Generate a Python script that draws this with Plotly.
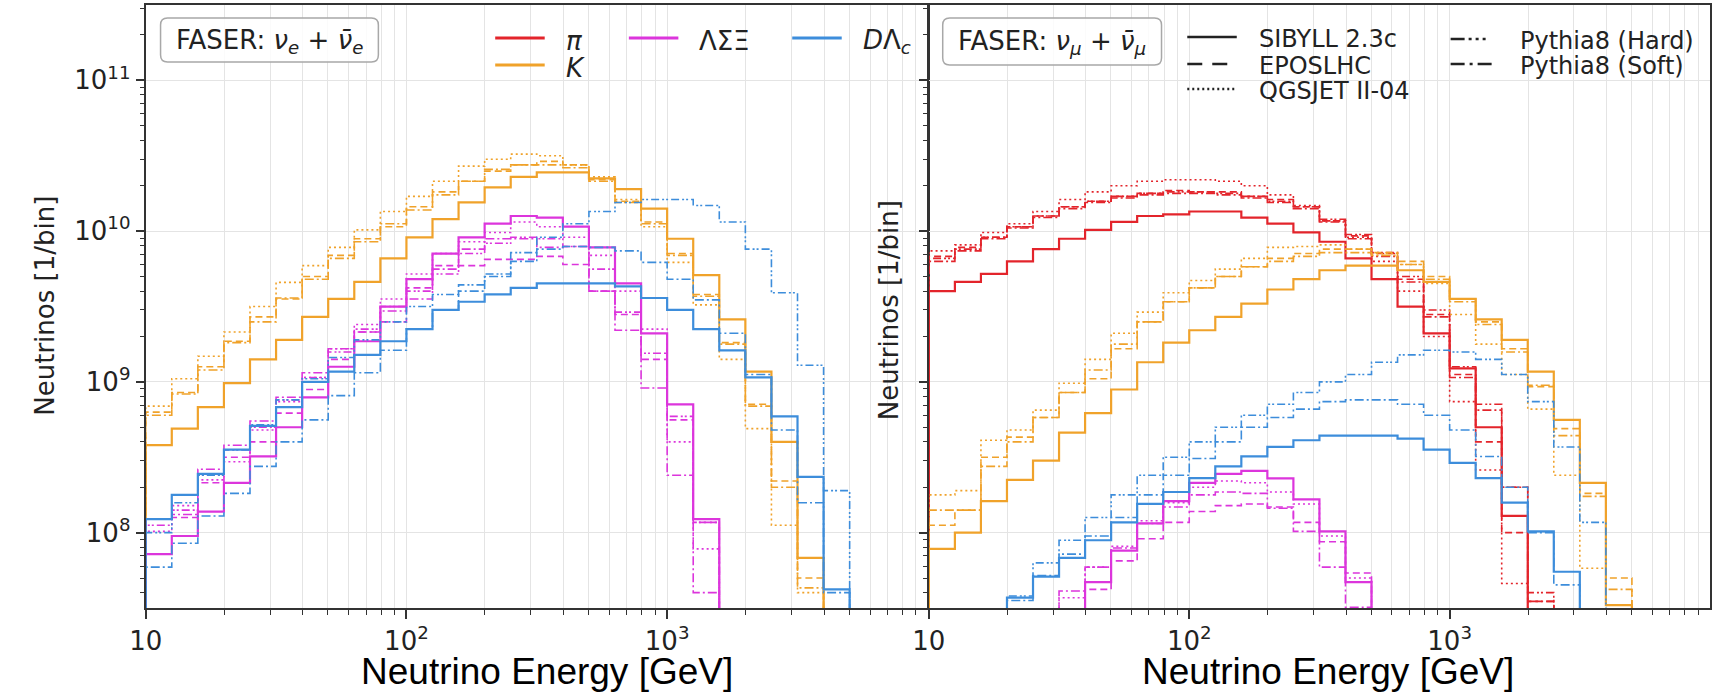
import plotly.graph_objects as go

W, H = 1712, 692

# ---------------- bins (0.1 decade, 10 GeV .. 10 TeV) ----------------
bin_edges = [10 ** (1 + 0.1 * i) for i in range(31)]

# ---------------- LEFT PANEL: nu_e + nubar_e (values per bin, bin 0 = 10 GeV) ----------------
L_K_sibyll = [3.8e8, 4.9e8, 6.8e8, 9.8e8, 1.41e9, 1.9e9, 2.7e9, 3.55e9, 4.6e9, 6.6e9, 9.1e9, 1.2e10, 1.55e10,
              1.95e10, 2.29e10, 2.45e10, 2.45e10, 2.24e10, 1.9e10, 1.41e10, 8.9e9, 5.1e9, 2.6e9, 1.17e9, 4.0e8, 6.8e7]
L_K_qgsjet = [6.9e8, 1.05e9, 1.48e9, 2.14e9, 3.16e9, 4.57e9, 5.9e9, 7.8e9, 1.02e10, 1.35e10, 1.7e10, 2.14e10, 2.7e10,
              3.0e10, 3.24e10, 3.16e10, 2.75e10, 2.29e10, 1.62e10, 1.07e10, 6.2e9, 3.24e9, 1.41e9, 4.9e8, 1.12e8, 4.0e7]
L_K_epos = [6.3e8, 8.5e8, 1.26e9, 1.86e9, 2.7e9, 3.55e9, 5.0e9, 6.9e9, 8.9e9, 1.07e10, 1.45e10, 1.82e10, 2.14e10,
            2.5e10, 2.75e10, 2.9e10, 2.75e10, 2.19e10, 1.58e10, 1.15e10, 7.1e9, 3.8e9, 1.82e9, 7.1e8, 2.2e8, 5.0e7]
L_K_soft = [6.0e8, 8.3e8, 1.2e9, 1.82e9, 2.5e9, 3.6e9, 4.8e9, 6.6e9, 8.5e9, 1.12e10, 1.38e10, 1.74e10, 2.14e10,
            2.57e10, 2.75e10, 2.75e10, 2.63e10, 2.14e10, 1.55e10, 1.12e10, 6.9e9, 3.7e9, 1.78e9, 6.9e8, 2.0e8, 4.3e7]

L_Hyp_sibyll = [7.2e7, 9.5e7, 1.38e8, 2.14e8, 3.2e8, 5.0e8, 7.9e8, 1.26e9, 1.86e9, 3.16e9, 4.8e9, 7.1e9, 9.1e9,
                1.12e10, 1.26e10, 1.23e10, 1.07e10, 7.8e9, 4.5e9, 2.1e9, 7.1e8, 1.23e8]
L_Hyp_qgsjet = [1.02e8, 1.51e8, 2.24e8, 2.95e8, 4.8e8, 7.4e8, 1.07e9, 1.66e9, 2.4e9, 3.55e9, 5.2e9, 7.1e9, 8.5e9,
                9.8e9, 1.15e10, 1.07e10, 9.1e9, 6.9e9, 4.0e9, 2.24e9, 4.0e8, 7.8e7]
L_Hyp_epos = [1.23e8, 1.26e8, 2.14e8, 3.16e8, 4.0e8, 6.2e8, 8.9e8, 1.41e9, 2.14e9, 2.5e9, 4.2e9, 5.9e9, 5.9e9,
              6.5e9, 6.5e9, 6.8e9, 6.0e9, 4.0e9, 2.8e9, 1.41e9, 5.6e8, 1.17e8]
L_Hyp_soft = [1.23e8, 1.32e8, 2.63e8, 3.8e8, 5.5e8, 7.9e8, 1.15e9, 1.66e9, 2.14e9, 2.95e9, 3.55e9, 5.6e9, 7.6e9,
              8.9e9, 8.9e9, 7.8e9, 7.9e9, 4.0e9, 2.2e9, 9.1e8, 2.4e8, 4.0e7]
L_Hyp_hard = [1.12e8, 1.41e8, 2.4e8, 3.55e8, 5.0e8, 7.6e8, 1.07e9, 1.58e9, 2.24e9, 3.16e9, 4.0e9, 5.2e9, 7.1e9,
              8.3e9, 9.1e9, 8.9e9, 7.9e9, 5.6e9, 2.9e9, 1.55e9, 5.9e8, 1.17e8]

L_Ch_sibyll = [1.23e8, 1.78e8, 2.45e8, 3.55e8, 5.1e8, 6.8e8, 1.0e9, 1.17e9, 1.51e9, 1.86e9, 2.24e9, 3.0e9, 3.4e9,
               3.8e9, 4.2e9, 4.5e9, 4.5e9, 4.5e9, 4.3e9, 3.6e9, 3.0e9, 2.24e9, 1.62e9, 1.07e9, 5.9e8, 2.34e8, 4.2e7]
L_Ch_soft = [5.9e7, 8.5e7, 1.29e8, 1.82e8, 2.75e8, 4.0e8, 5.6e8, 8.1e8, 1.15e9, 1.62e9, 2.24e9, 3.0e9, 4.0e9,
             5.0e9, 6.3e9, 7.6e9, 7.9e9, 7.8e9, 7.4e9, 6.2e9, 4.8e9, 3.5e9, 2.1e9, 1.12e9, 4.8e8, 1.58e8, 4.0e7]
L_Ch_hard = [1.0e8, 1.58e8, 2.4e8, 3.55e8, 5.2e8, 7.6e8, 1.05e9, 1.45e9, 1.9e9, 2.5e9, 3.16e9, 3.8e9, 4.4e9,
             5.2e9, 7.2e9, 9.1e9, 1.12e10, 1.35e10, 1.55e10, 1.62e10, 1.62e10, 1.48e10, 1.15e10, 7.6e9, 3.9e9, 1.29e9, 1.9e8]

# ---------------- RIGHT PANEL: nu_mu + nubar_mu ----------------
R_Pi_sibyll = [4.0e9, 4.6e9, 5.2e9, 6.3e9, 7.6e9, 8.9e9, 1.02e10, 1.15e10, 1.26e10, 1.29e10, 1.35e10, 1.35e10, 1.23e10,
               1.12e10, 9.8e9, 8.5e9, 6.6e9, 4.8e9, 3.16e9, 2.1e9, 1.23e9, 5.0e8, 1.29e8, 2.8e7]
R_Pi_qgsjet = [7.4e9, 8.1e9, 9.8e9, 1.12e10, 1.35e10, 1.62e10, 1.82e10, 2.0e10, 2.14e10, 2.19e10, 2.19e10, 2.14e10, 2.0e10,
               1.74e10, 1.48e10, 1.17e10, 9.1e9, 6.3e9, 4.0e9, 2.0e9, 7.4e8, 2.6e8, 4.6e7]
R_Pi_epos = [6.8e9, 7.8e9, 9.1e9, 1.07e10, 1.26e10, 1.45e10, 1.58e10, 1.7e10, 1.78e10, 1.86e10, 1.82e10, 1.82e10, 1.7e10,
             1.62e10, 1.45e10, 1.17e10, 9.3e9, 7.1e9, 4.8e9, 2.8e9, 1.12e9, 4.0e8, 1.0e8, 3.5e7]
R_Pi_soft = [6.3e9, 7.4e9, 8.9e9, 1.05e10, 1.23e10, 1.41e10, 1.55e10, 1.66e10, 1.74e10, 1.78e10, 1.78e10, 1.74e10, 1.66e10,
             1.55e10, 1.41e10, 1.15e10, 8.9e9, 6.8e9, 4.6e9, 2.7e9, 1.07e9, 6.5e8, 2.0e8, 3.5e7]
R_Pi_hard = [6.6e9, 7.6e9, 9.1e9, 1.07e10, 1.26e10, 1.45e10, 1.58e10, 1.7e10, 1.78e10, 1.82e10, 1.82e10, 1.78e10, 1.7e10,
             1.58e10, 1.45e10, 1.2e10, 9.5e9, 7.2e9, 5.0e9, 3.0e9, 1.26e9, 7.1e8, 2.0e8, 4.0e7]

R_K_sibyll = [7.8e7, 1.0e8, 1.62e8, 2.24e8, 3.0e8, 4.6e8, 6.2e8, 8.9e8, 1.35e9, 1.82e9, 2.2e9, 2.7e9, 3.3e9,
              4.1e9, 4.8e9, 5.5e9, 5.9e9, 5.9e9, 5.5e9, 4.6e9, 3.55e9, 2.6e9, 1.9e9, 1.17e9, 5.6e8, 2.14e8, 3.3e7]
R_K_qgsjet = [1.78e8, 1.9e8, 4.1e8, 4.8e8, 6.5e8, 9.8e8, 1.41e9, 2.1e9, 2.9e9, 3.9e9, 4.7e9, 5.6e9, 6.6e9,
              7.8e9, 7.9e9, 8.1e9, 7.6e9, 7.1e9, 6.0e9, 4.5e9, 2.8e9, 1.78e9, 1.12e9, 6.6e8, 2.4e8, 5.8e7]
R_K_epos = [1.12e8, 1.41e8, 3.16e8, 4.3e8, 5.8e8, 8.5e8, 1.05e9, 1.66e9, 2.5e9, 3.4e9, 4.2e9, 5.0e9, 5.8e9,
            6.6e9, 7.1e9, 7.6e9, 7.6e9, 7.2e9, 6.3e9, 5.0e9, 3.55e9, 2.5e9, 1.66e9, 9.3e8, 4.9e8, 1.82e8, 5.0e7]
R_K_soft = [1.41e8, 1.41e8, 2.75e8, 4.0e8, 5.8e8, 8.5e8, 1.2e9, 1.78e9, 2.5e9, 3.4e9, 4.2e9, 5.0e9, 5.8e9,
            6.3e9, 6.8e9, 7.2e9, 7.2e9, 6.9e9, 6.0e9, 4.8e9, 3.4e9, 2.4e9, 1.58e9, 9.5e8, 4.4e8, 1.74e8, 4.2e7]

R_Hyp_sibyll = [0, 0, 0, 0, 0, 2.9e7, 4.7e7, 7.6e7, 1.15e8, 1.62e8, 2.14e8, 2.45e8, 2.57e8, 2.29e8, 1.66e8, 1.02e8, 4.7e7]
R_Hyp_qgsjet = [0, 0, 0, 0, 0, 3.7e7, 5.9e7, 8.1e7, 1.2e8, 1.58e8, 2.0e8, 2.2e8, 2.14e8, 1.86e8, 1.55e8, 9.5e7, 5.0e7]
R_Hyp_epos = [0, 0, 0, 0, 0, 2.8e7, 4.2e7, 6.5e7, 9.1e7, 1.17e8, 1.38e8, 1.51e8, 1.55e8, 1.48e8, 1.17e8, 8.7e7, 5.4e7]
R_Hyp_soft = [0, 0, 0, 0, 0, 4.1e7, 5.9e7, 7.9e7, 1.15e8, 1.48e8, 1.78e8, 1.86e8, 1.82e8, 1.45e8, 1.02e8, 5.9e7, 3.2e7]

R_Ch_sibyll = [0, 0, 0, 3.7e7, 5.1e7, 6.8e7, 8.9e7, 1.17e8, 1.55e8, 1.86e8, 2.3e8, 2.75e8, 3.2e8, 3.7e8, 4.1e8,
               4.4e8, 4.4e8, 4.4e8, 4.2e8, 3.55e8, 2.9e8, 2.3e8, 1.58e8, 1.02e8, 5.5e7]
R_Ch_hard = [0, 0, 0, 3.8e7, 6.3e7, 8.9e7, 1.26e8, 1.78e8, 2.4e8, 3.16e8, 4.0e8, 5.0e8, 6.0e8, 7.1e8, 8.5e8,
             1.0e9, 1.12e9, 1.35e9, 1.51e9, 1.62e9, 1.58e9, 1.41e9, 1.12e9, 7.4e8, 3.7e8, 1.17e8]
R_Ch_soft = [0, 0, 0, 3.55e7, 5.2e7, 7.2e7, 9.5e7, 1.26e8, 1.78e8, 2.4e8, 3.1e8, 4.0e8, 5.0e8, 5.8e8, 6.6e8,
             7.4e8, 7.6e8, 7.6e8, 7.1e8, 6.0e8, 4.8e8, 3.2e8, 2.0e8, 1.0e8, 4.5e7]

# ---------------- labels ----------------
x_tickvals = [10, 100, 1000]
x_ticktext = ["10", "10<sup>2</sup>", "10<sup>3</sup>"]
y_tickvals = [1e8, 1e9, 1e10, 1e11]
y_ticktext = ["10<sup>8</sup>", "10<sup>9</sup>", "10<sup>10</sup>", "10<sup>11</sup>"]
species_labels = ["<i>π</i>", "<i>K</i>", "ΛΣΞ", "<i>D</i>Λ<sub><i>c</i></sub>"]
generator_labels = ["SIBYLL 2.3c", "EPOSLHC", "QGSJET II-04", "Pythia8 (Hard)", "Pythia8 (Soft)"]
x_title = "Neutrino Energy [GeV]"
y_title = "Neutrinos [1/bin]"
box_left = "FASER: <i>ν<sub>e</sub></i> + <i>ν̄<sub>e</sub></i>"
box_right = "FASER: <i>ν<sub>μ</sub></i> + <i>ν̄<sub>μ</sub></i>"

# ---------------- styles ----------------
C_PI, C_K, C_HYP, C_CH = "#e3242b", "#f0a22a", "#dc35dc", "#3d8ddb"
SOLID, DASHED, DOTTED = "solid", "7px,4px", "2px,3px"
SOFT, HARD = "9px,3px,2px,3px", "8px,3px,2px,2px,2px,3px"
FLOOR = 1e6


def step_xy(vals):
    idx = [i for i, v in enumerate(vals) if v > 0]
    i0, i1 = idx[0], idx[-1]
    xs, ys = [bin_edges[i0]], [FLOOR]
    for i in range(i0, i1 + 1):
        xs.append(bin_edges[i])
        ys.append(vals[i] if vals[i] > 0 else FLOOR)
    xs.append(bin_edges[i1 + 1])
    ys.append(FLOOR)
    return xs, ys


fig = go.Figure()


def add(vals, color, dash, xa, ya):
    xs, ys = step_xy(vals)
    w = 2.2 if dash == SOLID else 1.6
    fig.add_trace(go.Scatter(x=xs, y=ys, mode="lines", xaxis=xa, yaxis=ya,
                             line=dict(color=color, dash=dash, width=w, shape="hv"),
                             showlegend=False, hoverinfo="skip"))


left = [
    (L_K_qgsjet, C_K, DOTTED), (L_K_epos, C_K, DASHED), (L_K_soft, C_K, SOFT), (L_K_sibyll, C_K, SOLID),
    (L_Hyp_qgsjet, C_HYP, DOTTED), (L_Hyp_epos, C_HYP, DASHED), (L_Hyp_soft, C_HYP, SOFT),
    (L_Hyp_hard, C_HYP, HARD), (L_Hyp_sibyll, C_HYP, SOLID),
    (L_Ch_soft, C_CH, SOFT), (L_Ch_hard, C_CH, HARD), (L_Ch_sibyll, C_CH, SOLID),
]
right = [
    (R_Pi_qgsjet, C_PI, DOTTED), (R_Pi_epos, C_PI, DASHED), (R_Pi_soft, C_PI, SOFT), (R_Pi_hard, C_PI, HARD),
    (R_Pi_sibyll, C_PI, SOLID),
    (R_K_qgsjet, C_K, DOTTED), (R_K_epos, C_K, DASHED), (R_K_soft, C_K, SOFT), (R_K_sibyll, C_K, SOLID),
    (R_Hyp_qgsjet, C_HYP, DOTTED), (R_Hyp_epos, C_HYP, DASHED), (R_Hyp_soft, C_HYP, SOFT),
    (R_Hyp_sibyll, C_HYP, SOLID),
    (R_Ch_soft, C_CH, SOFT), (R_Ch_hard, C_CH, HARD), (R_Ch_sibyll, C_CH, SOLID),
]
for v, c, d in left:
    add(v, c, d, "x", "y")
for v, c, d in right:
    add(v, c, d, "x2", "y2")


def px(x):
    return x / W


def py(y):
    return 1 - y / H


tick_font = dict(family="DejaVu Sans", size=26, color="#222222")
minor_x = [m * 10 ** e for e in (1, 2, 3) for m in range(2, 10)]
minor_y = [m * 10 ** e for e in (7, 8, 9, 10, 11) for m in range(2, 10)]

xcommon = dict(type="log", range=[1, 4], tickmode="array", tickvals=x_tickvals, ticktext=x_ticktext,
               ticks="outside", ticklen=9, tickwidth=1.5, tickcolor="#333333",
               showline=True, linecolor="#333333", linewidth=2, mirror=True,
               showgrid=True, gridcolor="#e4e4e4", gridwidth=1, zeroline=False,
               minor=dict(tickmode="array", tickvals=minor_x, ticks="outside", ticklen=5, tickwidth=1.2,
                          tickcolor="#333333", showgrid=True, gridcolor="#e4e4e4", gridwidth=1),
               tickfont=tick_font)
ycommon = dict(type="log", range=[7.5, 11.5], tickmode="array", tickvals=y_tickvals, ticktext=y_ticktext,
               ticks="outside", ticklen=8, tickwidth=1.5, tickcolor="#333333",
               showline=True, linecolor="#333333", linewidth=2, mirror=True,
               showgrid=True, gridcolor="#e4e4e4", gridwidth=1, zeroline=False,
               minor=dict(tickmode="array", tickvals=minor_y, ticks="outside", ticklen=4, tickwidth=1.2,
                          tickcolor="#333333", showgrid=False),
               tickfont=tick_font)

fig.update_layout(
    width=W, height=H, margin=dict(l=0, r=0, t=0, b=0), autosize=False,
    paper_bgcolor="white", plot_bgcolor="white", showlegend=False,
    xaxis=dict(domain=[px(130), px(920)], anchor="y", **xcommon),
    yaxis=dict(domain=[py(608), py(5)], anchor="x", **ycommon),
    xaxis2=dict(domain=[px(921), px(1710)], anchor="y2", **xcommon),
    yaxis2=dict(domain=[py(608), py(5)], anchor="x2", showticklabels=False,
                **{k: v for k, v in ycommon.items() if k != "tickfont"}),
)

ann = []
# axis titles
for cx in (535, 1324):
    ann.append(dict(x=px(cx), y=py(671), text=x_title, showarrow=False, xanchor="center", yanchor="middle",
                    xref="paper", yref="paper",
                    font=dict(family="Liberation Sans, Arial", size=37, color="black")))
for cx, cy in ((28, 306), (881, 310)):
    ann.append(dict(x=px(cx), y=py(cy), text=y_title, textangle=-90, showarrow=False,
                    xanchor="center", yanchor="middle", xref="paper", yref="paper",
                    font=dict(family="DejaVu Sans", size=26, color="#222222")))

shapes = []


def rounded_box(x0, y0, x1, y1, r):
    pts = [
        ("M", x0 + r, y0), ("L", x1 - r, y0), ("Q", x1, y0, x1, y0 + r), ("L", x1, y1 - r),
        ("Q", x1, y1, x1 - r, y1), ("L", x0 + r, y1), ("Q", x0, y1, x0, y1 - r), ("L", x0, y0 + r),
        ("Q", x0, y0, x0 + r, y0),
    ]
    s = ""
    for p in pts:
        if p[0] == "Q":
            s += f"Q {px(p[1])},{py(p[2])} {px(p[3])},{py(p[4])} "
        else:
            s += f"{p[0]} {px(p[1])},{py(p[2])} "
    return s + "Z"


for (bx0, by0, bx1, by1), txt in (((145, 18, 365, 62), box_left), ((935, 18, 1156, 65), box_right)):
    shapes.append(dict(type="path", xref="paper", yref="paper", path=rounded_box(bx0, by0, bx1, by1, 7),
                       line=dict(color="#a8a8a8", width=1.5), fillcolor="rgba(255,255,255,0.85)", layer="above"))
    ann.append(dict(x=px((bx0 + bx1) / 2), y=py((by0 + by1) / 2 + 1), text=txt, showarrow=False,
                    xanchor="center", yanchor="middle", xref="paper", yref="paper",
                    font=dict(family="DejaVu Sans", size=26, color="#222222")))

# species legend (left panel)
species_pos = [(483, 38, C_PI), (483, 65, C_K), (618, 38, C_HYP), (783, 38, C_CH)]
for (lx, ly, col), lab in zip(species_pos, species_labels):
    shapes.append(dict(type="line", xref="paper", yref="paper", x0=px(lx), x1=px(lx + 50), y0=py(ly), y1=py(ly),
                       line=dict(color=col, width=3), layer="above"))
    ann.append(dict(x=px(lx + 69), y=py(ly + 3), text=lab, showarrow=False, xanchor="left", yanchor="middle",
                    xref="paper", yref="paper",
                    font=dict(family="DejaVu Sans", size=26, color="#222222")))

# generator legend (right panel)
gen_pos = [(1182, 37, SOLID, 1252), (1182, 64, "15px,10px", 1252), (1182, 89, "2px,3px", 1252),
           (1448, 39, "14px,4px,3px,4px,3px,4px,3px", 1516), (1448, 64, "14px,5px,3px,5px,14px", 1516)]
for (lx, ly, dsh, tx), lab in zip(gen_pos, generator_labels):
    shapes.append(dict(type="line", xref="paper", yref="paper", x0=px(lx), x1=px(lx + (50 if lx < 1400 else 42)),
                       y0=py(ly), y1=py(ly), line=dict(color="#222222", width=2.5, dash=dsh), layer="above"))
    ann.append(dict(x=px(tx), y=py(ly + 2), text=lab, showarrow=False, xanchor="left", yanchor="middle",
                    xref="paper", yref="paper",
                    font=dict(family="DejaVu Sans", size=24, color="#222222")))

fig.update_layout(annotations=ann, shapes=shapes)
fig.write_html("out.html")
